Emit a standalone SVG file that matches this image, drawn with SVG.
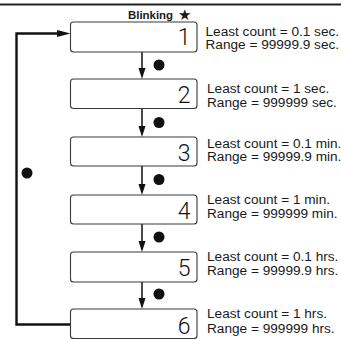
<svg xmlns="http://www.w3.org/2000/svg" width="341" height="339" viewBox="0 0 341 339">
<style>
.box{fill:#fff;stroke:#3a3a3a;stroke-width:1.1}
.dig{font-family:Roboto,"Liberation Sans",sans-serif;font-weight:300;font-size:23px;fill:#111;text-anchor:end}
.lbl{font-family:"Liberation Sans",Arial,sans-serif;font-size:12px;fill:#1a1a1a}
.arr{stroke:#111;stroke-width:1.5;fill:none}
.head{fill:#111}
.loop{stroke:#111;stroke-width:2.4;fill:none}
.dot{fill:#111}
</style>
<rect x="0" y="0" width="341" height="339" fill="#fff"/>
<line x1="0" y1="4.5" x2="341" y2="4.5" stroke="#222" stroke-width="2"/>
<text x="128" y="18.5" font-family="Liberation Sans,Arial,sans-serif" font-size="10" font-weight="bold" fill="#1a1a1a" textLength="45" lengthAdjust="spacingAndGlyphs">Blinking</text>
<text x="178" y="20" font-family="DejaVu Sans,sans-serif" font-size="15" fill="#1a1a1a">★</text>
<g id="connectors">
<line class="arr" x1="142" y1="52" x2="142" y2="76"/>
<path class="head" d="M138.5,68 L145.5,68 L142,79 z"/>
<line class="arr" x1="142" y1="108.5" x2="142" y2="134"/>
<path class="head" d="M138.5,126 L145.5,126 L142,137 z"/>
<line class="arr" x1="142" y1="166" x2="142" y2="192"/>
<path class="head" d="M138.5,184 L145.5,184 L142,195 z"/>
<line class="arr" x1="142" y1="224" x2="142" y2="249"/>
<path class="head" d="M138.5,241 L145.5,241 L142,252 z"/>
<line class="arr" x1="142" y1="282" x2="142" y2="306"/>
<path class="head" d="M138.5,298 L145.5,298 L142,309 z"/>
<path class="loop" d="M70.5,324.5 H16.5 V33.5 H60"/>
<path class="head" d="M57,30 L70.5,33.5 L57,37 z"/>
<circle class="dot" cx="159" cy="65" r="5.5"/>
<circle class="dot" cx="159" cy="122.5" r="5.5"/>
<circle class="dot" cx="159" cy="179.5" r="5.5"/>
<circle class="dot" cx="159" cy="237" r="5.5"/>
<circle class="dot" cx="159" cy="294" r="5.5"/>
<circle class="dot" cx="27" cy="173" r="5.5"/>
</g>
<g id="n1">
<rect class="box" x="70.5" y="22" width="126.5" height="30" rx="3"/>
<text class="dig" x="190.5" y="45">1</text>
<text class="lbl" x="205.5" y="36" textLength="133.6" lengthAdjust="spacingAndGlyphs">Least count = 0.1 sec.</text>
<text class="lbl" x="205.5" y="48.5" textLength="133.6" lengthAdjust="spacingAndGlyphs">Range = 99999.9 sec.</text>
</g>
<g id="n2">
<rect class="box" x="70.5" y="79" width="126.5" height="29.5" rx="3"/>
<text class="dig" x="190.5" y="103">2</text>
<text class="lbl" x="207" y="93" textLength="122.3" lengthAdjust="spacingAndGlyphs">Least count = 1 sec.</text>
<text class="lbl" x="207" y="106.5" textLength="129.9" lengthAdjust="spacingAndGlyphs">Range = 999999 sec.</text>
</g>
<g id="n3">
<rect class="box" x="70.5" y="137" width="126.5" height="29" rx="3"/>
<text class="dig" x="190.5" y="160.5">3</text>
<text class="lbl" x="207" y="148" textLength="134.4" lengthAdjust="spacingAndGlyphs">Least count = 0.1 min.</text>
<text class="lbl" x="207" y="161" textLength="134.4" lengthAdjust="spacingAndGlyphs">Range = 99999.9 min.</text>
</g>
<g id="n4">
<rect class="box" x="70.5" y="195" width="126.5" height="29" rx="3"/>
<text class="dig" x="190.5" y="218.5">4</text>
<text class="lbl" x="207" y="204" textLength="123" lengthAdjust="spacingAndGlyphs">Least count = 1 min.</text>
<text class="lbl" x="207" y="218" textLength="130.6" lengthAdjust="spacingAndGlyphs">Range = 999999 min.</text>
</g>
<g id="n5">
<rect class="box" x="70.5" y="252" width="126.5" height="30" rx="3"/>
<text class="dig" x="190.5" y="276">5</text>
<text class="lbl" x="207" y="261" textLength="131.4" lengthAdjust="spacingAndGlyphs">Least count = 0.1 hrs.</text>
<text class="lbl" x="207" y="274.5" textLength="131.4" lengthAdjust="spacingAndGlyphs">Range = 99999.9 hrs.</text>
</g>
<g id="n6">
<rect class="box" x="70.5" y="309" width="126.5" height="29.5" rx="3"/>
<text class="dig" x="190.5" y="334">6</text>
<text class="lbl" x="207" y="318" textLength="120" lengthAdjust="spacingAndGlyphs">Least count = 1 hrs.</text>
<text class="lbl" x="207" y="333" textLength="127.6" lengthAdjust="spacingAndGlyphs">Range = 999999 hrs.</text>
</g>
</svg>
